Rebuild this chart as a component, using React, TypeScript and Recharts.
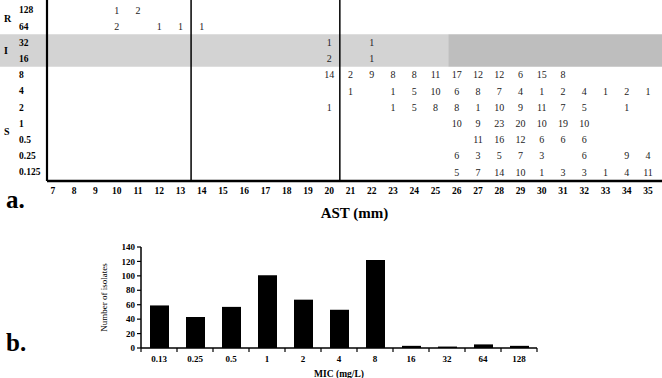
import {
  ScatterChart,
  Scatter,
  BarChart,
  Bar,
  XAxis,
  YAxis,
  ReferenceArea,
  ReferenceLine,
  Label,
} from 'recharts';

const SERIF = '"Liberation Serif", "Times New Roman", serif';

// panel a: AST (mm) vs MIC (mg/L), counts per cell
const AST_TICKS = [7, 8, 9, 10, 11, 12, 13, 14, 15, 16, 17, 18, 19, 20, 21, 22, 23, 24, 25, 26, 27, 28, 29, 30, 31, 32, 33, 34, 35];
const MIC_LABELS = ['128', '64', '32', '16', '8', '4', '2', '1', '0.5', '0.25', '0.125'];
const CATEGORY_LABELS = ['R', 'I', 'S'];

// [AST mm, number of isolates]
const ROW_128 = [[10, 1], [11, 2]];
const ROW_64 = [[10, 2], [12, 1], [13, 1], [14, 1]];
const ROW_32 = [[20, 1], [22, 1]];
const ROW_16 = [[20, 2], [22, 1]];
const ROW_8 = [[20, 14], [21, 2], [22, 9], [23, 8], [24, 8], [25, 11], [26, 17], [27, 12], [28, 12], [29, 6], [30, 15], [31, 8]];
const ROW_4 = [[21, 1], [23, 1], [24, 5], [25, 10], [26, 6], [27, 8], [28, 7], [29, 4], [30, 1], [31, 2], [32, 4], [33, 1], [34, 2], [35, 1]];
const ROW_2 = [[20, 1], [23, 1], [24, 5], [25, 8], [26, 8], [27, 1], [28, 10], [29, 9], [30, 11], [31, 7], [32, 5], [34, 1]];
const ROW_1 = [[26, 10], [27, 9], [28, 23], [29, 20], [30, 10], [31, 19], [32, 10]];
const ROW_05 = [[27, 11], [28, 16], [29, 12], [30, 6], [31, 6], [32, 6]];
const ROW_025 = [[26, 6], [27, 3], [28, 5], [29, 7], [30, 3], [32, 6], [34, 9], [35, 4]];
const ROW_0125 = [[26, 5], [27, 7], [28, 14], [29, 10], [30, 1], [31, 3], [32, 3], [33, 1], [34, 4], [35, 11]];

const ROWS = [ROW_128, ROW_64, ROW_32, ROW_16, ROW_8, ROW_4, ROW_2, ROW_1, ROW_05, ROW_025, ROW_0125];

// panel b: distribution of MICs
const MIC_BINS = ['0.13', '0.25', '0.5', '1', '2', '4', '8', '16', '32', '64', '128'];
const ISOLATES = [59, 43, 57, 101, 67, 53, 122, 3, 2, 5, 3];
const COUNT_TICKS = [0, 20, 40, 60, 80, 100, 120, 140];

// rows are placed on a log2 scale of MIC
const micLevel = (label: string) => Math.log2(Number(label));

const cells = ROWS.flatMap((row, i) =>
  row.map(([ast, n]) => ({ ast, mic: micLevel(MIC_LABELS[i]), n })),
);

// category labels sit between the rows they cover
const CATEGORY_LEVELS = [6.5, 4.5, -0.5];
const Y_TICKS = [...MIC_LABELS.map(micLevel), ...CATEGORY_LEVELS];

const barData = MIC_BINS.map((mic, i) => ({ mic, count: ISOLATES[i] }));

function CellText(props: { cx?: number; cy?: number; payload?: { n: number } }) {
  const { cx = 0, cy = 0, payload } = props;
  return (
    <text x={cx} y={cy} dy="0.35em" textAnchor="middle" fontSize={10} fill="#222" fontFamily={SERIF}>
      {payload?.n}
    </text>
  );
}

function MicTick(props: { x?: number; y?: number; payload?: { value: number } }) {
  const { x = 0, y = 0, payload } = props;
  const v = payload?.value ?? 0;
  const cat = CATEGORY_LEVELS.indexOf(v);
  if (cat >= 0) {
    return (
      <text x={x - 43} y={y} dy="0.35em" fontSize={10} fontWeight="bold" fill="#000" fontFamily={SERIF}>
        {CATEGORY_LABELS[cat]}
      </text>
    );
  }
  return (
    <text x={x - 28} y={y} dy="0.35em" fontSize={9.5} fontWeight="bold" fill="#000" fontFamily={SERIF}>
      {MIC_LABELS.find((m) => micLevel(m) === v)}
    </text>
  );
}

function BinTick(props: { x?: number; y?: number; payload?: { value: string; offset?: number; index?: number } }) {
  const { x = 0, y = 0, payload } = props;
  const half = payload?.offset || 18;
  const last = payload?.index === MIC_BINS.length - 1;
  return (
    <g>
      <line x1={x - half} x2={x - half} y1={y - 7} y2={y - 3} stroke="#000" strokeWidth={1.2} />
      {last && <line x1={x + half} x2={x + half} y1={y - 7} y2={y - 3} stroke="#000" strokeWidth={1.2} />}
      <text x={x} y={y} dy="0.75em" textAnchor="middle" fontSize={9} fontWeight="bold" fill="#000" fontFamily={SERIF}>
        {payload?.value}
      </text>
    </g>
  );
}

export default function App() {
  return (
    <div
      style={{
        position: 'absolute',
        left: 0,
        top: 0,
        width: 662,
        height: 378,
        background: '#fff',
        fontFamily: SERIF,
        overflow: 'hidden',
      }}
    >
      <div style={{ position: 'absolute', left: 0, top: 0 }}>
        <ScatterChart width={662} height={225} margin={{ top: 0, right: 0, left: 0, bottom: 0 }}>
          <ReferenceArea x1={4.5} x2={25.6} y1={3.5} y2={5.5} fill="#d3d3d3" fillOpacity={1} ifOverflow="visible" />
          <ReferenceArea x1={25.6} x2={36} y1={3.5} y2={5.5} fill="#bebebe" fillOpacity={1} ifOverflow="visible" />
          <XAxis
            type="number"
            dataKey="ast"
            domain={[6.72, 35.66]}
            ticks={AST_TICKS}
            interval={0}
            height={44}
            tickLine={false}
            tickSize={0}
            tickMargin={6}
            axisLine={{ stroke: '#000', strokeWidth: 2.6 }}
            tick={{ fontSize: 9.5, fontWeight: 'bold', fill: '#000' }}
          >
            <Label
              value="AST (mm)"
              position="insideBottom"
              offset={7}
              style={{ fontSize: 15, fontWeight: 'bold', fill: '#000' }}
            />
          </XAxis>
          <YAxis
            type="number"
            dataKey="mic"
            domain={[-3.55, 7.62]}
            ticks={Y_TICKS}
            interval={0}
            width={47}
            tickLine={false}
            tickSize={0}
            tickMargin={0}
            axisLine={{ stroke: '#000', strokeWidth: 2.2 }}
            tick={(p: any) => <MicTick {...p} />}
          />
          <ReferenceLine x={13.5} stroke="#000" strokeWidth={1.5} />
          <ReferenceLine x={20.5} stroke="#000" strokeWidth={1.5} />
          <Scatter data={cells} shape={(p: any) => <CellText {...p} />} isAnimationActive={false} />
        </ScatterChart>
      </div>
      <div style={{ position: 'absolute', left: 6, top: 187, fontSize: 25, fontWeight: 'bold', lineHeight: 1 }}>
        a.
      </div>

      <div style={{ position: 'absolute', left: 0, top: 230 }}>
        <BarChart
          width={662}
          height={148}
          data={barData}
          margin={{ top: 17, right: 125, left: 96, bottom: 0 }}
          barSize={19}
        >
          <XAxis
            dataKey="mic"
            interval={0}
            height={30}
            tickLine={false}
            tickSize={4}
            tickMargin={3}
            axisLine={{ stroke: '#000', strokeWidth: 1.5 }}
            tick={(p: any) => <BinTick {...p} />}
          >
            <Label
              value="MIC (mg/L)"
              position="insideBottom"
              offset={1}
              style={{ fontSize: 9.5, fontWeight: 'bold', fill: '#000' }}
            />
          </XAxis>
          <YAxis
            domain={[0, 140]}
            ticks={COUNT_TICKS}
            interval={0}
            width={45}
            tickSize={4}
            tickMargin={2}
            tickLine={{ stroke: '#000', strokeWidth: 1.2 }}
            axisLine={{ stroke: '#000', strokeWidth: 1.5 }}
            tick={{ fontSize: 9, fontWeight: 'bold', fill: '#000' }}
          >
            <Label
              value="Number of isolates"
              angle={-90}
              position="insideLeft"
              offset={8}
              style={{ fontSize: 9, fill: '#000', textAnchor: 'middle' }}
            />
          </YAxis>
          <Bar dataKey="count" fill="#000" isAnimationActive={false} />
        </BarChart>
      </div>
      <div style={{ position: 'absolute', left: 6, top: 330, fontSize: 25, fontWeight: 'bold', lineHeight: 1 }}>
        b.
      </div>
    </div>
  );
}
